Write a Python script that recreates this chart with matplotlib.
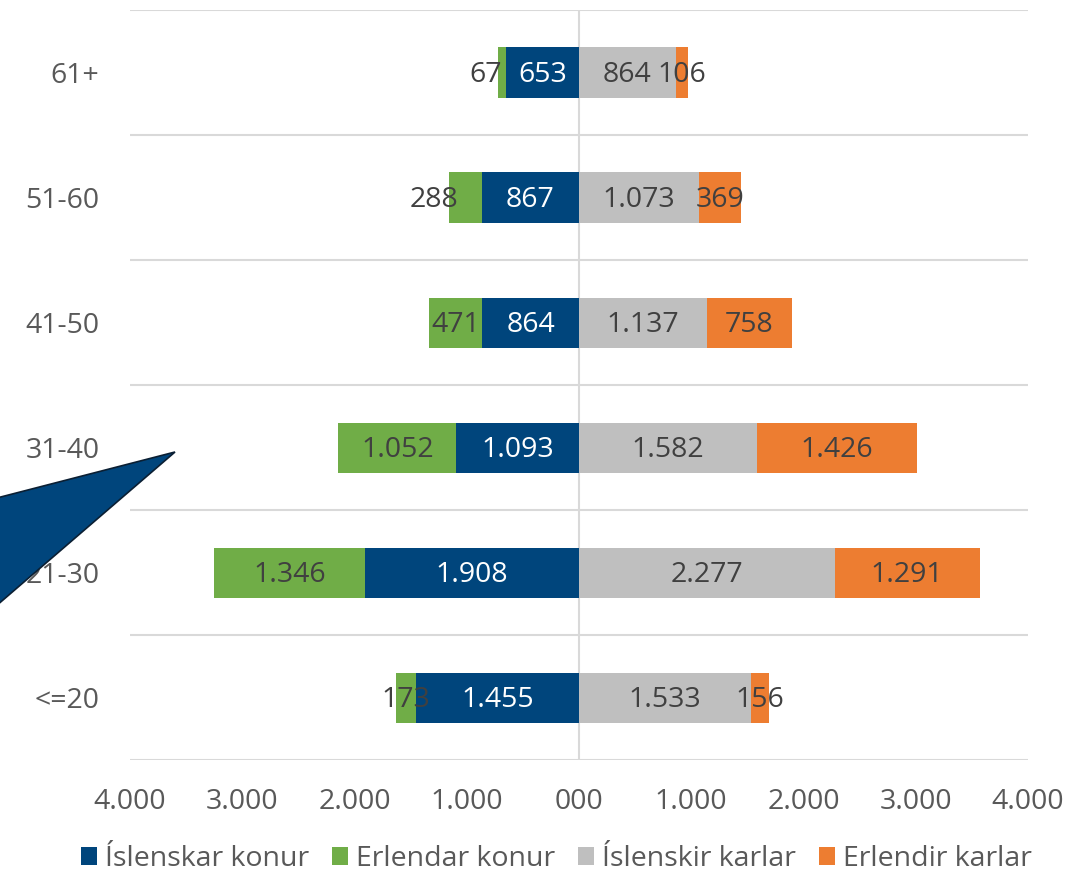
import matplotlib.pyplot as plt
from matplotlib.patches import Polygon
import numpy as np

plt.rcParams['font.family'] = ['Open Sans', 'DejaVu Sans']

# Data (bottom to top)
ages = ["<=20", "21-30", "31-40", "41-50", "51-60", "61+"]
isl_konur = [1455, 1908, 1093, 864, 867, 653]
erl_konur = [173, 1346, 1052, 471, 288, 67]
isl_karlar = [1533, 2277, 1582, 1137, 1073, 864]
erl_karlar = [156, 1291, 1426, 758, 369, 106]

series_names = ["Íslenskar konur", "Erlendar konur", "Íslenskir karlar", "Erlendir karlar"]
colors = ["#00457C", "#70AD47", "#BFBFBF", "#ED7D31"]
txt_colors = ["white", "#404040", "#404040", "#404040"]

def fmt(v):
    return f"{v:,.0f}".replace(",", ".")

fig = plt.figure(figsize=(10.92, 8.75), dpi=100)
ax = fig.add_axes([130 / 1092, 1 - 760 / 875, 898 / 1092, 750 / 875])

y = np.arange(len(ages))
h = 0.4
ik = -np.array(isl_konur)
ek = -np.array(erl_konur)
im = np.array(isl_karlar)
em = np.array(erl_karlar)

ax.barh(y, ik, h, color=colors[0], label=series_names[0], zorder=2)
ax.barh(y, ek, h, left=ik, color=colors[1], label=series_names[1], zorder=2)
ax.barh(y, im, h, color=colors[2], label=series_names[2], zorder=2)
ax.barh(y, em, h, left=im, color=colors[3], label=series_names[3], zorder=2)

# labels
for i in range(len(ages)):
    segs = [
        (ik[i] / 2, isl_konur[i]),
        (ik[i] + ek[i] / 2, erl_konur[i]),
        (im[i] / 2, isl_karlar[i]),
        (im[i] + em[i] / 2, erl_karlar[i]),
    ]
    for j, (xc, v) in enumerate(segs):
        if ages[i] == "61+" and j == 1:
            xc = -830
        if ages[i] == "51-60" and j == 1:
            xc = -1295
        ax.text(xc, y[i] - 0.02, fmt(v), ha="center", va="center", fontsize=20.5,
                color=txt_colors[j], zorder=3)

ax.set_xlim(-4000, 4000)
ax.set_ylim(-0.5, len(ages) - 0.5)
ax.set_xticks(np.arange(-4000, 4001, 1000))
ax.set_xticklabels(["000" if t == 0 else fmt(abs(t)) for t in np.arange(-4000, 4001, 1000)])
ax.set_yticks(y)
ax.set_yticklabels(ages)
ax.tick_params(axis="both", length=0, labelsize=20.5, labelcolor="#595959")
ax.tick_params(axis="y", pad=22)
ax.tick_params(axis="x", pad=20)

for s in ax.spines.values():
    s.set_visible(False)
for yy in np.arange(-0.5, len(ages), 1):
    ax.axhline(yy, color="#D9D9D9", lw=1.5, zorder=1)
ax.axvline(0, color="#D9D9D9", lw=1.5, zorder=1)

ax.legend(loc="center", bbox_to_anchor=(0.475, -0.132), ncol=4, frameon=False,
          fontsize=20.5, handlelength=0.55, handleheight=0.55, handletextpad=0.3,
          columnspacing=0.8, labelcolor="#595959", borderpad=0.1)

# blue triangle decoration
tri = Polygon([[175 / 1092, 1 - 452 / 875], [-0.01, 1 - 500 / 875], [-0.01, 1 - 612 / 875]],
              closed=True, transform=fig.transFigure, facecolor="#00457C",
              edgecolor="#0B1F33", lw=1.2, zorder=10, clip_on=False)
fig.patches.append(tri)

fig.savefig("out.png", dpi=100)
